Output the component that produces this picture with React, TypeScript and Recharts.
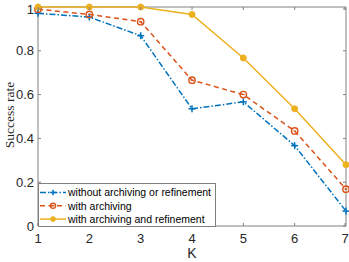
import { LineChart, Line, XAxis, YAxis, ReferenceArea } from 'recharts'

const kValues = [1, 2, 3, 4, 5, 6, 7]
const withoutArchiving = [0.971, 0.954, 0.869, 0.535, 0.567, 0.367, 0.068]
const withArchiving = [0.99, 0.966, 0.933, 0.666, 0.6, 0.434, 0.168]
const withRefinement = [1.0, 1.0, 1.0, 0.966, 0.767, 0.535, 0.28]
const xTicks = [1, 2, 3, 4, 5, 6, 7]
const yTicks = [0, 0.2, 0.4, 0.6, 0.8, 1]

const SERIES = [
  { key: 'a', name: 'without archiving or refinement', color: '#0072BD', dash: '6 2 1.5 2', marker: 'plus' },
  { key: 'b', name: 'with archiving', color: '#D95319', dash: '5 3.5', marker: 'circle' },
  { key: 'c', name: 'with archiving and refinement', color: '#EDB120', dash: undefined, marker: 'dot' },
]

const data = kValues.map((k, i) => ({
  k,
  a: withoutArchiving[i],
  b: withArchiving[i],
  c: withRefinement[i],
}))

const W = 349
const H = 262
const LEFT = 38
const TOP = 7
const RIGHT = 346
const BOTTOM = 226
const TICK = 3
const AXIS = '#808080'
const FONT = '"Liberation Sans", Arial, Helvetica, sans-serif'

const Marker = ({ kind, cx, cy, color, s = 1 }: any) => {
  if (cx == null || cy == null) return null
  if (kind === 'plus') {
    return (
      <g>
        <line x1={cx - 3.5 * s} y1={cy} x2={cx + 3.5 * s} y2={cy} stroke={color} strokeWidth={1.5} />
        <line x1={cx} y1={cy - 3.5 * s} x2={cx} y2={cy + 3.5 * s} stroke={color} strokeWidth={1.5} />
      </g>
    )
  }
  if (kind === 'circle') {
    return (
      <g>
        <circle cx={cx} cy={cy} r={3.2 * s} fill="none" stroke={color} strokeWidth={1.4} />
        <line x1={cx - 1.5 * s} y1={cy} x2={cx + 1.5 * s} y2={cy} stroke={color} strokeWidth={1} />
      </g>
    )
  }
  return <circle cx={cx} cy={cy} r={3 * s} fill={color} stroke={color} />
}

const XTick = ({ x, payload }: any) => (
  <g>
    <line x1={x} y1={BOTTOM} x2={x} y2={BOTTOM - TICK} stroke={AXIS} />
    <line x1={x} y1={TOP} x2={x} y2={TOP + TICK} stroke={AXIS} />
    <text x={x} y={BOTTOM + 17} textAnchor="middle" fontSize={13} fontFamily={FONT} fill="#262626">
      {payload.value}
    </text>
  </g>
)

const YTick = ({ y, payload }: any) => (
  <g>
    <line x1={LEFT} y1={y} x2={LEFT + TICK} y2={y} stroke={AXIS} />
    <line x1={RIGHT} y1={y} x2={RIGHT - TICK} y2={y} stroke={AXIS} />
    <text x={LEFT - 4} y={y + 4.5} textAnchor="end" fontSize={13} fontFamily={FONT} fill="#262626">
      {String(payload.value)}
    </text>
  </g>
)

const LegendBox = () => (
  <svg
    width={178}
    height={44}
    style={{ position: 'absolute', left: LEFT, top: 183, overflow: 'visible' }}
  >
    <rect x={0.5} y={0.5} width={177} height={43} fill="#fff" stroke={AXIS} />
    {SERIES.map((s, i) => {
      const cy = 9.5 + i * 13.3
      return (
        <g key={s.key}>
          <line x1={2} y1={cy} x2={28} y2={cy} stroke={s.color} strokeWidth={1.5} strokeDasharray={s.dash} />
          <Marker kind={s.marker} cx={15} cy={cy} color={s.color} s={0.8} />
          <text x={30} y={cy + 3.8} fontSize={10.5} fontFamily={FONT} fill="#000">
            {s.name}
          </text>
        </g>
      )
    })}
  </svg>
)

export default function App() {
  return (
    <div style={{ position: 'absolute', left: 0, top: 0, width: W, height: H, background: '#fff' }}>
      <LineChart
        width={W}
        height={H}
        data={data}
        margin={{ top: TOP, right: W - RIGHT, bottom: 0, left: 0 }}
      >
        <XAxis
          dataKey="k"
          type="number"
          domain={[1, 7]}
          ticks={xTicks}
          axisLine={false}
          tickLine={false}
          tick={<XTick />}
          height={H - BOTTOM}
        />
        <YAxis
          type="number"
          domain={[0, 1]}
          ticks={yTicks}
          axisLine={false}
          tickLine={false}
          tick={<YTick />}
          width={LEFT}
        />
        <ReferenceArea x1={1} x2={7} y1={0} y2={1} fill="none" stroke={AXIS} strokeWidth={1} />
        {SERIES.map((s) => (
          <Line
            key={s.key}
            dataKey={s.key}
            name={s.name}
            type="linear"
            stroke={s.color}
            strokeWidth={1.5}
            strokeDasharray={s.dash}
            dot={(p: any) => <Marker key={`${s.key}-${p.index}`} kind={s.marker} cx={p.cx} cy={p.cy} color={s.color} />}
            isAnimationActive={false}
          />
        ))}
        <text x={192} y={258} textAnchor="middle" fontSize={14} fontFamily={FONT} fill="#262626">
          K
        </text>
        <text
          x={14}
          y={115}
          transform="rotate(-90 14 115)"
          textAnchor="middle"
          fontSize={13.5}
          fontFamily='"Liberation Serif", "Times New Roman", serif'
          fill="#262626"
        >
          Success rate
        </text>
      </LineChart>
      <LegendBox />
    </div>
  )
}
